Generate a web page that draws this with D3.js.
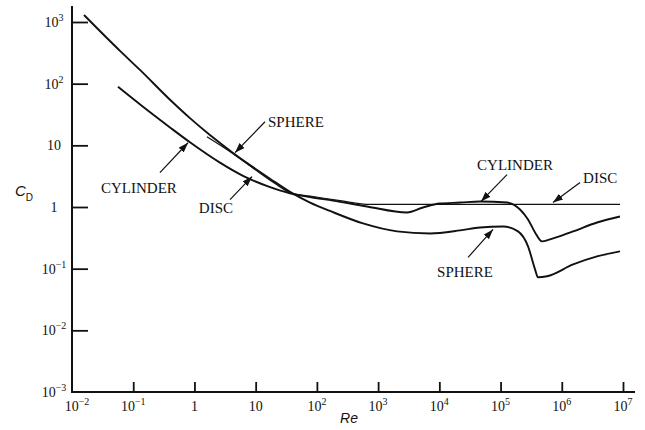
<!DOCTYPE html>
<html>
<head>
<meta charset="utf-8">
<script src="https://cdn.jsdelivr.net/npm/d3@7"></script>
<style>
  body { margin: 0; background: #fff; }
  text { font-family: "Liberation Serif", "Times New Roman", serif; fill: #111; }
</style>
</head>
<body>
<svg id="chart" width="645" height="430"></svg>
<script>
// drag coefficient vs Reynolds number
const sphereRe = [0.0157, 0.0608, 0.129, 0.399, 0.845, 1.79, 4.27, 8.07, 17.1, 36.4, 77.3, 164, 568, 2040, 7050, 21800, 46200, 110000, 193000, 281000, 366000, 409000, 574000, 1.53e6, 3.77e6, 8.93e6];
const sphereCd = [1297, 340, 167, 54.8, 27.6, 14.7, 7.53, 4.78, 2.88, 1.76, 1.18, 0.862, 0.541, 0.402, 0.372, 0.417, 0.466, 0.484, 0.402, 0.230, 0.0975, 0.0724, 0.0752, 0.117, 0.158, 0.191];

const cylinderRe = [0.0564, 0.1445, 0.399, 0.845, 2.61, 6.21, 15.9, 36.4, 77.3, 183, 659, 2965, 5410, 10250, 21800, 46200, 128000, 208000, 281000, 366000, 475000, 643000, 1.53e6, 3.77e6, 8.93e6];
const cylinderCd = [88.9, 42.2, 19.5, 11.2, 5.24, 3.20, 2.16, 1.67, 1.45, 1.27, 1.02, 0.815, 0.982, 1.14, 1.18, 1.23, 1.18, 0.912, 0.628, 0.387, 0.277, 0.298, 0.402, 0.561, 0.702];

const discRe = [1.6, 4.27, 9.75, 20.7, 36.4, 86.5, 239, 738, 8.93e6];
const discCd = [13.8, 7.33, 4.04, 2.40, 1.72, 1.48, 1.27, 1.10, 1.10];

const xTicks = [1e-2, 1e-1, 1, 10, 1e2, 1e3, 1e4, 1e5, 1e6, 1e7];
const xTickLabels = [["10", "−2"], ["10", "−1"], ["1", ""], ["10", ""], ["10", "2"], ["10", "3"], ["10", "4"], ["10", "5"], ["10", "6"], ["10", "7"]];
const yTicks = [1e3, 1e2, 10, 1, 1e-1, 1e-2, 1e-3];
const yTickLabels = [["10", "3"], ["10", "2"], ["10", ""], ["1", ""], ["10", "−1"], ["10", "−2"], ["10", "−3"]];

const noteText = ["SPHERE", "DISC", "CYLINDER", "CYLINDER", "DISC", "SPHERE"];
const noteTail = [[14.2, 24.1], [3.81, 1.32], [0.273, 3.61], [127600, 3.36], [1.99e6, 2.49], [29400, 0.152]];
const noteTip = [[4.6, 7.6], [8.71, 3.11], [0.785, 11.0], [48000, 1.23], [7.19e5, 1.18], [75300, 0.433]];

// label placement relative to the arrow tail (px)
const noteLayout = [[3, 5, "start"], [3, 13, "end"], [-21, 20, "middle"], [8, -5, "middle"], [3, 0, "start"], [-3, 20, "middle"]];

const svg = d3.select("#chart");
const x = d3.scaleLog().domain([1e-2, 1e7]).range([72, 623]);
const y = d3.scaleLog().domain([1e-3, 1e3]).range([392, 22]);

svg.append("defs").append("marker")
  .attr("id", "head")
  .attr("markerUnits", "userSpaceOnUse")
  .attr("markerWidth", 10).attr("markerHeight", 7)
  .attr("refX", 10).attr("refY", 3.5)
  .attr("orient", "auto")
  .append("path").attr("d", "M0,0L10,3.5L0,7z").attr("fill", "#111");

// axes
svg.append("line").attr("x1", 72).attr("x2", 72).attr("y1", 6).attr("y2", 393)
  .attr("stroke", "#111").attr("stroke-width", 2);
svg.append("line").attr("x1", 71).attr("x2", 635).attr("y1", 392).attr("y2", 392)
  .attr("stroke", "#111").attr("stroke-width", 2);

const gy = svg.append("g").attr("transform", "translate(72,0)")
  .call(d3.axisRight(y).tickValues(yTicks.slice(0, -1)).tickSize(16).tickFormat(""));
const gx = svg.append("g").attr("transform", "translate(0,392)")
  .call(d3.axisTop(x).tickValues(xTicks.slice(1)).tickSize(10).tickFormat(""));
[gx, gy].forEach(g => {
  g.select(".domain").remove();
  g.selectAll(".tick line").attr("stroke", "#111").attr("stroke-width", 1.8);
});

function powLabel(px, py, parts, anchor) {
  const t = svg.append("text").attr("x", px).attr("y", py)
    .attr("text-anchor", anchor).attr("font-size", 14);
  t.append("tspan").text(parts[0]);
  if (parts[1]) t.append("tspan").attr("dy", -6).attr("font-size", 10).text(parts[1]);
  return t;
}

yTicks.forEach((v, i) => powLabel(54, y(v) + 5, yTickLabels[i], "middle"));
xTicks.forEach((v, i) => powLabel(x(v) + (i === 0 ? 5 : 0), 411, xTickLabels[i], "middle"));

svg.append("text").attr("x", 349).attr("y", 423).attr("text-anchor", "middle")
  .style("font-family", "'Liberation Sans', Arial, sans-serif").style("font-style", "italic")
  .attr("font-size", 14).text("Re");

const cd = svg.append("text").attr("x", 15).attr("y", 196)
  .style("font-family", "'Liberation Sans', Arial, sans-serif").attr("font-size", 15);
cd.append("tspan").style("font-style", "italic").text("C");
cd.append("tspan").attr("dy", 5).attr("font-size", 10).text("D");

// curves
const line = d3.line().x(d => x(d[0])).y(d => y(d[1])).curve(d3.curveMonotoneX);
const series = [
  { re: sphereRe, cd: sphereCd, w: 1.9 },
  { re: cylinderRe, cd: cylinderCd, w: 1.9 },
  { re: discRe, cd: discCd, w: 1.2 }
];
series.forEach(s => {
  svg.append("path")
    .datum(s.re.map((r, i) => [r, s.cd[i]]))
    .attr("d", line)
    .attr("fill", "none")
    .attr("stroke", "#111")
    .attr("stroke-width", s.w)
    .attr("stroke-linejoin", "round");
});

// annotations
noteText.forEach((t, i) => {
  const tx = x(noteTail[i][0]), ty = y(noteTail[i][1]);
  svg.append("line")
    .attr("x1", tx).attr("y1", ty)
    .attr("x2", x(noteTip[i][0])).attr("y2", y(noteTip[i][1]))
    .attr("stroke", "#111").attr("stroke-width", 1.2)
    .attr("marker-end", "url(#head)");
  svg.append("text")
    .attr("x", tx + noteLayout[i][0]).attr("y", ty + noteLayout[i][1])
    .attr("text-anchor", noteLayout[i][2])
    .attr("font-size", 15)
    .text(t);
});
</script>
</body>
</html>
